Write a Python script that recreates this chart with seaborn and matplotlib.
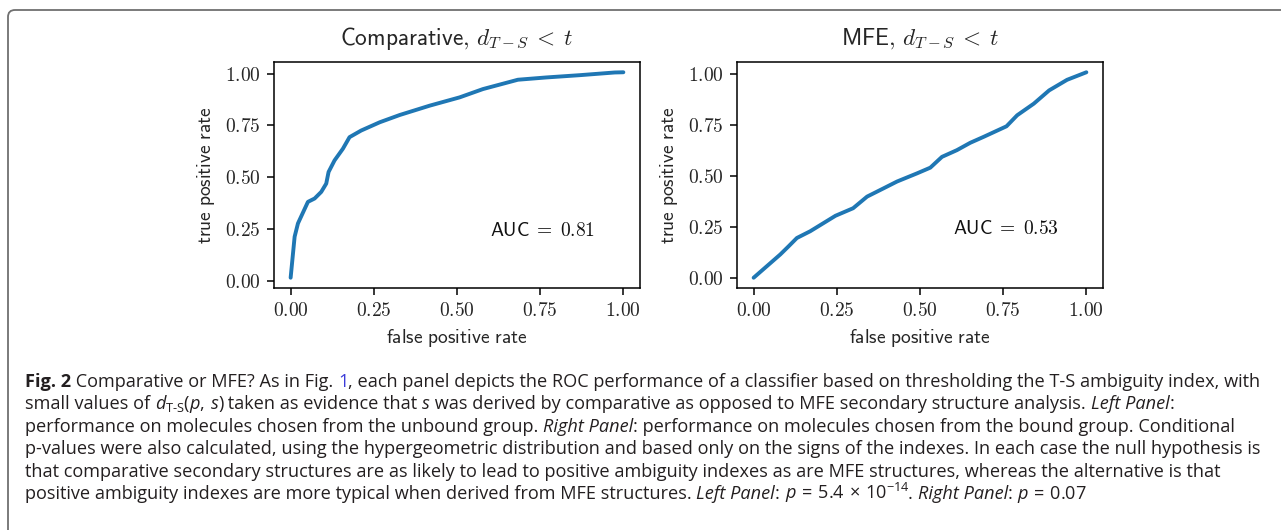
import matplotlib
matplotlib.use('Agg')
import matplotlib.pyplot as plt
import pandas as pd
import seaborn as sns
from matplotlib.patches import FancyBboxPatch
from matplotlib.transforms import IdentityTransform
from matplotlib.font_manager import FontProperties

''' ROC curves : comparative vs MFE (read off the published figure) '''

# left panel - comparative
fpr_comp = [0.0, 0.012, 0.022, 0.052, 0.072, 0.092, 0.107, 0.114, 0.132, 0.157, 0.177,
            0.212, 0.268, 0.328, 0.418, 0.508, 0.578, 0.683, 0.768, 0.869, 0.974, 1.0]
tpr_comp = [0.015, 0.213, 0.277, 0.381, 0.397, 0.429, 0.469, 0.525, 0.581, 0.637, 0.693,
            0.725, 0.765, 0.800, 0.845, 0.885, 0.925, 0.970, 0.981, 0.992, 1.005, 1.006]

# right panel - MFE
fpr_mfe = [0.0, 0.04, 0.08, 0.105, 0.13, 0.17, 0.21, 0.246, 0.299, 0.341, 0.391, 0.431,
           0.491, 0.531, 0.566, 0.611, 0.651, 0.691, 0.76, 0.792, 0.842, 0.888, 0.942, 1.0]
tpr_mfe = [0.0, 0.057, 0.114, 0.154, 0.195, 0.228, 0.268, 0.304, 0.341, 0.398, 0.439, 0.472,
           0.512, 0.540, 0.593, 0.626, 0.662, 0.691, 0.743, 0.797, 0.854, 0.919, 0.971, 1.008]

auc_vals = ['0.81', '0.53']
titles = ['Comparative,', 'MFE,']
ticks = [0.0, 0.25, 0.5, 0.75, 1.0]

sns.set_style('ticks')
plt.rcParams['font.family'] = ['Open Sans', 'DejaVu Sans']
plt.rcParams['mathtext.fontset'] = 'custom'
plt.rcParams['mathtext.rm'] = 'Open Sans'
plt.rcParams['mathtext.it'] = 'Open Sans:italic'
plt.rcParams['mathtext.bf'] = 'Open Sans:bold'

fig = plt.figure(figsize=(12.81, 5.30), dpi=100)
fig.patch.set_facecolor('white')

ax1 = fig.add_axes([274/1281, 1 - 288/530, 366/1281, 226/530])
ax2 = fig.add_axes([737/1281, 1 - 288/530, 366/1281, 226/530])

curves = [pd.DataFrame({'fpr': fpr_comp, 'tpr': tpr_comp}),
          pd.DataFrame({'fpr': fpr_mfe, 'tpr': tpr_mfe})]

for ax, df, ttl, auc in zip([ax1, ax2], curves, titles, auc_vals):
    sns.lineplot(data=df, x='fpr', y='tpr', ax=ax, color='#1f77b4', linewidth=2.8,
                 estimator=None, sort=False)
    ax.set_xticks(ticks)
    ax.set_yticks(ticks)
    ax.set_xticklabels([f'${t:.2f}$' for t in ticks], math_fontfamily='cm', fontsize=14)
    ax.set_yticklabels([f'${t:.2f}$' for t in ticks], math_fontfamily='cm', fontsize=14)
    ax.set_xlabel(r'$\mathsf{false\ positive\ rate}$', math_fontfamily='cm', fontsize=14, labelpad=5.6)
    ax.set_ylabel(r'$\mathsf{true\ positive\ rate}$', math_fontfamily='cm', fontsize=14, labelpad=5.6)
    ax.set_title(r'$\mathsf{' + ttl + r'}\,d_{T-S}\:<\:t$', math_fontfamily='cm', fontsize=16.8, pad=12.5)
    ax.text(0.6, 0.24, r'$\mathsf{AUC}\;=\;\mathsf{' + auc + '}$', math_fontfamily='cm',
            fontsize=14, ha='left', va='center', color='#111111')
    ax.tick_params(length=4.9, width=1.1, pad=4.9, color='black')
    for sp in ax.spines.values():
        sp.set_visible(True)
        sp.set_linewidth(1.1)
        sp.set_color('black')

# caption box
fig.patches.append(FancyBboxPatch((8, -20), 1300, 540, boxstyle='round,pad=0,rounding_size=7',
                                  transform=IdentityTransform(), figure=fig,
                                  facecolor='none', edgecolor='#707070', linewidth=1.3))

# caption text, drawn segment by segment
renderer = fig.canvas.get_renderer()
cap_size = 13.1
txt_col = '#231f20'
N = {'weight': 'normal', 'style': 'normal'}
B = {'weight': 'bold', 'style': 'normal'}
I = {'weight': 'normal', 'style': 'italic'}

caption = [
    [('Fig. 2', B, txt_col), (' Comparative or MFE? As in Fig. ', N, txt_col), ('1', N, '#3b3bd9'),
     (', each panel depicts the ROC performance of a classifier based on thresholding the T-S ambiguity index, with', N, txt_col)],
    [('small values of ', N, txt_col), (r'$d_{\mathrm{T\text{-}S}}(p,\,s)$', N, txt_col),
     (' taken as evidence that ', N, txt_col), ('s', I, txt_col),
     (' was derived by comparative as opposed to MFE secondary structure analysis. ', N, txt_col),
     ('Left Panel', I, txt_col), (':', N, txt_col)],
    [('performance on molecules chosen from the unbound group. ', N, txt_col), ('Right Panel', I, txt_col),
     (': performance on molecules chosen from the bound group. Conditional', N, txt_col)],
    [('p-values were also calculated, using the hypergeometric distribution and based only on the signs of the indexes. In each case the null hypothesis is', N, txt_col)],
    [('that comparative secondary structures are as likely to lead to positive ambiguity indexes as are MFE structures, whereas the alternative is that', N, txt_col)],
    [('positive ambiguity indexes are more typical when derived from MFE structures. ', N, txt_col),
     ('Left Panel', I, txt_col), (': ', N, txt_col), (r'$p\, =\, 5.4\, \times\, 10^{-14}$', N, txt_col),
     ('. ', N, txt_col), ('Right Panel', I, txt_col), (': ', N, txt_col), (r'$p\, =\, 0.07$', N, txt_col)],
]
baselines = [387, 409, 432, 454, 477, 499]


def seg_width(s, fp):
    ismath = '$' in s
    w1 = renderer.get_text_width_height_descent('|' + s + '|', fp, ismath=ismath)[0]
    w0 = renderer.get_text_width_height_descent('||', fp, ismath=ismath)[0]
    return w1 - w0


for line, base in zip(caption, baselines):
    x = 25
    for s, sty, col in line:
        fp = FontProperties(family='Open Sans', size=cap_size, **sty)
        fig.text(x, 530 - base, s, transform=IdentityTransform(), fontproperties=fp,
                 color=col, va='baseline', ha='left')
        x += seg_width(s, fp)

fig.savefig('out.png', dpi=100, facecolor='white')
